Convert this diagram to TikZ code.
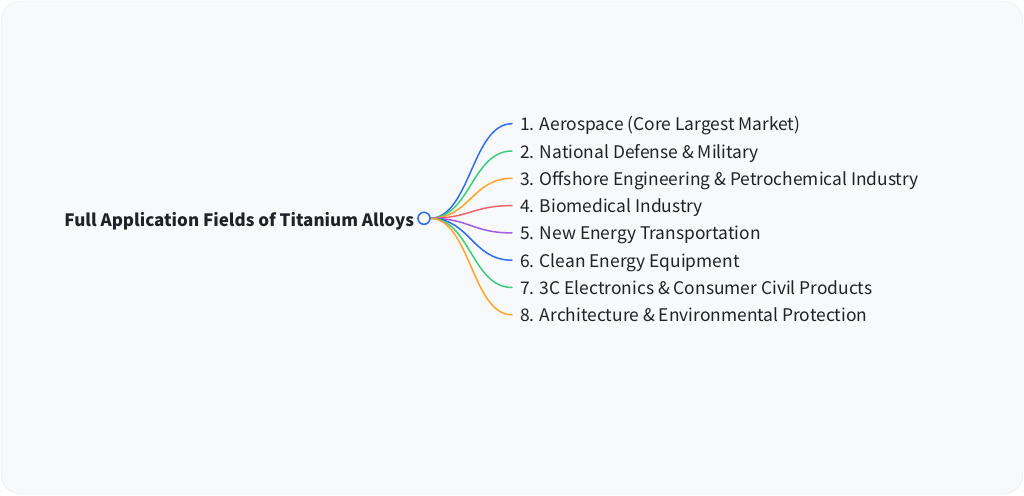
\documentclass[tikz,border=0pt]{standalone}
\usepackage{fontspec}
\setmainfont{Noto Sans CJK SC}
\usetikzlibrary{positioning}

\definecolor{pagebg}{HTML}{F8F9FB}
\definecolor{pageline}{HTML}{E6E8EC}
\definecolor{inktext}{HTML}{1F2328}
\definecolor{lblue}{HTML}{2F6FEB}
\definecolor{lgreen}{HTML}{3FCB7E}
\definecolor{lorange}{HTML}{FFA52B}
\definecolor{lred}{HTML}{F5636A}
\definecolor{lpurple}{HTML}{A05FE3}

\tikzset{
	root/.style={
		anchor=east,
		inner sep=0pt,
		text height=17pt, text depth=0pt,
		text=inktext,
		font=\fontsize{17}{20}\selectfont\bfseries,
	},
	hub/.style={
		circle,
		draw=lblue, line width=1.6pt,
		fill=white,
		minimum size=12pt,
		inner sep=0pt,
	},
	field/.style={
		anchor=west,
		inner xsep=8pt, inner ysep=0pt,
		text height=14pt, text depth=0pt,
		text=inktext,
		font=\fontsize{17.4}{20}\selectfont,
	},
	branch/.style={line width=1.5pt, line cap=round},
}

\begin{document}
\begin{tikzpicture}[x=1pt, y=-1pt]
	\useasboundingbox (0,0) rectangle (1024,495);
	\fill[white] (0,0) rectangle (1024,495);
	\draw[pageline, fill=pagebg, rounded corners=20pt] (1,1) rectangle (1023,494);

	\coordinate (H) at (430,218.3);

	\node[field](F1) at (512,123.7){1. Aerospace (Core Largest Market)};
	\node[field](F2) at (512,151.0){2. National Defense \& Military};
	\node[field](F3) at (512,178.3){3. Offshore Engineering \& Petrochemical Industry};
	\node[field](F4) at (512,205.6){4. Biomedical Industry};
	\node[field](F5) at (512,232.9){5. New Energy Transportation};
	\node[field](F6) at (512,260.2){6. Clean Energy Equipment};
	\node[field](F7) at (512,287.5){7. 3C Electronics \& Consumer Civil Products};
	\node[field](F8) at (512,314.8){8. Architecture \& Environmental Protection};

	\draw[branch, lblue] (H) .. controls +(40,0) and +(-40,0) .. (F1.west);
	\draw[branch, lgreen] (H) .. controls +(40,0) and +(-40,0) .. (F2.west);
	\draw[branch, lorange] (H) .. controls +(40,0) and +(-40,0) .. (F3.west);
	\draw[branch, lred] (H) .. controls +(40,0) and +(-40,0) .. (F4.west);
	\draw[branch, lpurple] (H) .. controls +(40,0) and +(-40,0) .. (F5.west);
	\draw[branch, lblue] (H) .. controls +(40,0) and +(-40,0) .. (F6.west);
	\draw[branch, lgreen] (H) .. controls +(40,0) and +(-40,0) .. (F7.west);
	\draw[branch, lorange] (H) .. controls +(40,0) and +(-40,0) .. (F8.west);

	\node[hub](HUB) at (424,218.3){};
	\node[root, left=3pt of HUB](ROOT){Full Application Fields of Titanium Alloys};
\end{tikzpicture}
\end{document}
